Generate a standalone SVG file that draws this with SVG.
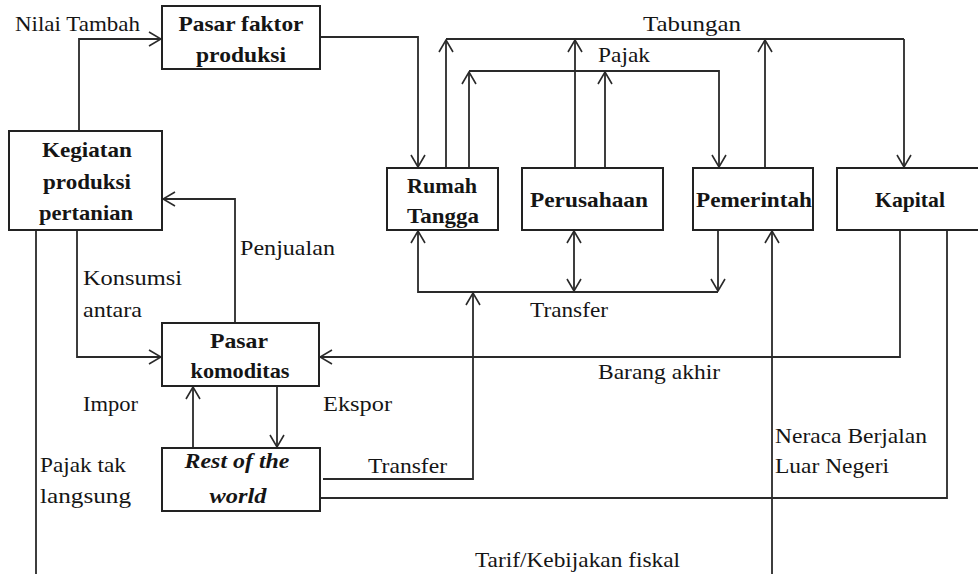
<svg xmlns="http://www.w3.org/2000/svg" width="978" height="574" viewBox="0 0 978 574">
<defs>
<marker id="arr" viewBox="0 0 14 16" refX="13" refY="8" markerWidth="14" markerHeight="16" markerUnits="userSpaceOnUse" orient="auto-start-reverse">
<path d="M1,1 L13,8 L1,15" fill="none" stroke="#2a2a2a" stroke-width="1.6"/>
</marker>
<style>
.box{fill:none;stroke:#222;stroke-width:2}
.ln{fill:none;stroke:#2a2a2a;stroke-width:1.8}
.a{marker-end:url(#arr)}
.t{font-family:"Liberation Serif","Times New Roman",serif;font-size:22px;fill:#151515}
.b{font-weight:bold;text-anchor:middle}
.i{font-style:italic}
</style>
</defs>
<rect width="978" height="574" fill="#ffffff"/>

<g id="connectors">
<path class="ln a" d="M79,131 V39 H161"/>
<path class="ln a" d="M320,37 H418 V167"/>
<path class="ln" d="M446,39 H904"/>
<path class="ln a" d="M446,168 V40"/>
<path class="ln a" d="M575,168 V40"/>
<path class="ln a" d="M765,168 V40"/>
<path class="ln a" d="M904,39 V167"/>
<path class="ln a" d="M469,168 V72"/>
<path class="ln a" d="M605,168 V72"/>
<path class="ln a" d="M469,71 H719 V167"/>
<path class="ln a" d="M77,230 V357 H161"/>
<path class="ln a" d="M235,323 V199 H163"/>
<path class="ln a" d="M718,230 V291"/>
<path class="ln a" d="M718,292 H418 V231"/>
<path class="ln a" style="marker-start:url(#arr)" d="M574,231 V291"/>
<path class="ln a" d="M323,479 H473 V293"/>
<path class="ln a" d="M900,230 V357 H320"/>
<path class="ln" d="M947,230 V498 H320"/>
<path class="ln a" d="M36,230 V590 H772 V231"/>
<path class="ln a" d="M193,448 V387"/>
<path class="ln a" d="M277,386 V447"/>
</g>

<g id="pasar-faktor">
<rect class="box" x="162" y="6" width="158" height="63"/>
<text class="t b" x="241" y="31" textLength="125" lengthAdjust="spacingAndGlyphs">Pasar faktor</text>
<text class="t b" x="241" y="62" textLength="90" lengthAdjust="spacingAndGlyphs">produksi</text>
</g>
<g id="kegiatan">
<rect class="box" x="9" y="131" width="153" height="99"/>
<text class="t b" x="87" y="157" textLength="90" lengthAdjust="spacingAndGlyphs">Kegiatan</text>
<text class="t b" x="87" y="189" textLength="88" lengthAdjust="spacingAndGlyphs">produksi</text>
<text class="t b" x="86" y="220" textLength="94" lengthAdjust="spacingAndGlyphs">pertanian</text>
</g>
<g id="rumah-tangga">
<rect class="box" x="387" y="168" width="111" height="62"/>
<text class="t b" x="442" y="193" textLength="70" lengthAdjust="spacingAndGlyphs">Rumah</text>
<text class="t b" x="443" y="223" textLength="72" lengthAdjust="spacingAndGlyphs">Tangga</text>
</g>
<g id="perusahaan">
<rect class="box" x="522" y="168" width="141" height="62"/>
<text class="t b" x="589" y="207" textLength="118" lengthAdjust="spacingAndGlyphs">Perusahaan</text>
</g>
<g id="pemerintah">
<rect class="box" x="693" y="168" width="120" height="62"/>
<text class="t b" x="754" y="207" textLength="116" lengthAdjust="spacingAndGlyphs">Pemerintah</text>
</g>
<g id="kapital">
<rect class="box" x="837" y="168" width="145" height="62"/>
<text class="t b" x="910" y="207" textLength="70" lengthAdjust="spacingAndGlyphs">Kapital</text>
</g>
<g id="pasar-komoditas">
<rect class="box" x="162" y="323" width="157" height="63"/>
<text class="t b" x="239" y="348" textLength="58" lengthAdjust="spacingAndGlyphs">Pasar</text>
<text class="t b" x="240" y="378" textLength="99" lengthAdjust="spacingAndGlyphs">komoditas</text>
</g>
<g id="rest-of-the-world">
<rect class="box" x="162" y="448" width="158" height="63"/>
<text class="t b i" x="237" y="468" textLength="105" lengthAdjust="spacingAndGlyphs">Rest of the</text>
<text class="t b i" x="238" y="503" textLength="57" lengthAdjust="spacingAndGlyphs">world</text>
</g>

<g id="labels">
<text class="t" x="15" y="31" textLength="125" lengthAdjust="spacingAndGlyphs">Nilai Tambah</text>
<text class="t" x="643" y="31" textLength="98" lengthAdjust="spacingAndGlyphs">Tabungan</text>
<text class="t" x="598" y="62" textLength="52" lengthAdjust="spacingAndGlyphs">Pajak</text>
<text class="t" x="240" y="255" textLength="95" lengthAdjust="spacingAndGlyphs">Penjualan</text>
<text class="t" x="83" y="285" textLength="99" lengthAdjust="spacingAndGlyphs">Konsumsi</text>
<text class="t" x="83" y="317" textLength="59" lengthAdjust="spacingAndGlyphs">antara</text>
<text class="t" x="530" y="317" textLength="78" lengthAdjust="spacingAndGlyphs">Transfer</text>
<text class="t" x="598" y="379" textLength="122" lengthAdjust="spacingAndGlyphs">Barang akhir</text>
<text class="t" x="83" y="411" textLength="55" lengthAdjust="spacingAndGlyphs">Impor</text>
<text class="t" x="323" y="411" textLength="69" lengthAdjust="spacingAndGlyphs">Ekspor</text>
<text class="t" x="40" y="472" textLength="86" lengthAdjust="spacingAndGlyphs">Pajak tak</text>
<text class="t" x="40" y="503" textLength="91" lengthAdjust="spacingAndGlyphs">langsung</text>
<text class="t" x="368" y="473" textLength="79" lengthAdjust="spacingAndGlyphs">Transfer</text>
<text class="t" x="775" y="443" textLength="152" lengthAdjust="spacingAndGlyphs">Neraca Berjalan</text>
<text class="t" x="775" y="473" textLength="114" lengthAdjust="spacingAndGlyphs">Luar Negeri</text>
<text class="t" x="475" y="567" textLength="205" lengthAdjust="spacingAndGlyphs">Tarif/Kebijakan fiskal</text>
</g>
</svg>
